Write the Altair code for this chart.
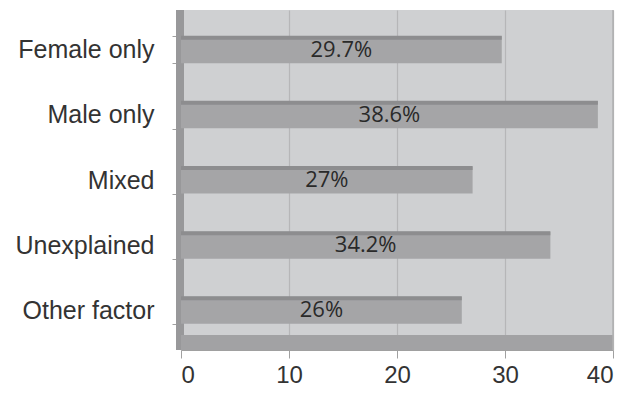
import altair as alt
import pandas as pd

categories = ["Female only", "Male only", "Mixed", "Unexplained", "Other factor"]
values = [29.7, 38.6, 27, 34.2, 26]
labels = ["29.7%", "38.6%", "27%", "34.2%", "26%"]

df = pd.DataFrame({"cat": categories, "val": values, "lab": labels})

W, H = 432, 340

yscale = alt.Scale(domain=categories, paddingInner=0.58, paddingOuter=0.4)
xscale = alt.Scale(domain=[0, 40])

base = alt.Chart(df)

wall_left = base.mark_rect(color="#98989a").encode(
    x=alt.value(-5), x2=alt.value(3), y=alt.value(0), y2=alt.value(H)
)
floor = alt.Chart(pd.DataFrame({"a": [0]})).mark_rect(color="#a2a2a4").encode(
    x=alt.value(0), x2=alt.value(432), y=alt.value(H - 15), y2=alt.value(H)
)
right_edge = alt.Chart(pd.DataFrame({"a": [0]})).mark_rule(color="#b0b0b2", strokeWidth=1.5).encode(
    x=alt.value(432), y=alt.value(0), y2=alt.value(H)
)

bars = base.mark_bar(color="#a5a5a7", size=27).encode(
    x=alt.X("val:Q", scale=xscale,
            axis=alt.Axis(values=[0, 10, 20, 30, 40], grid=True, gridColor="#b6b6b8",
                          gridWidth=1.2, domain=True, domainColor="#a0a0a0",
                          tickColor="#a0a0a0", tickSize=8, labelFontSize=24,
                          labelFont="Liberation Sans", labelColor="#333333",
                          labelPadding=5, title=None)),
    y=alt.Y("cat:N", scale=yscale, sort=categories,
            axis=alt.Axis(labelFontSize=25, labelFont="Liberation Sans",
                          labelColor="#333333", labelPadding=18, domain=False,
                          ticks=True, tickBand="extent", tickColor="#a0a0a0",
                          tickSize=9, grid=False, title=None)),
)
tops = base.mark_bar(color="#8d8d8f", size=4, yOffset=-12).encode(
    x=alt.X("val:Q", scale=xscale), y=alt.Y("cat:N", scale=yscale, sort=categories)
)
text = base.mark_text(font="Open Sans", fontSize=22, color="#2a2a2a", baseline="middle").encode(
    x=alt.X("mid:Q", scale=xscale), y=alt.Y("cat:N", scale=yscale, sort=categories),
    text="lab:N",
).transform_calculate(mid="datum.val / 2")

chart = alt.layer(wall_left, floor, right_edge, bars, tops, text).properties(
    width=W, height=H,
    autosize=alt.AutoSizeParams(type="none"),
    padding={"left": 173, "top": 2, "right": 10, "bottom": 40},
    background="white",
).configure_view(fill="#cfd0d2", stroke=None)

chart.save("out.html", embed_options={"renderer": "svg", "actions": False})
